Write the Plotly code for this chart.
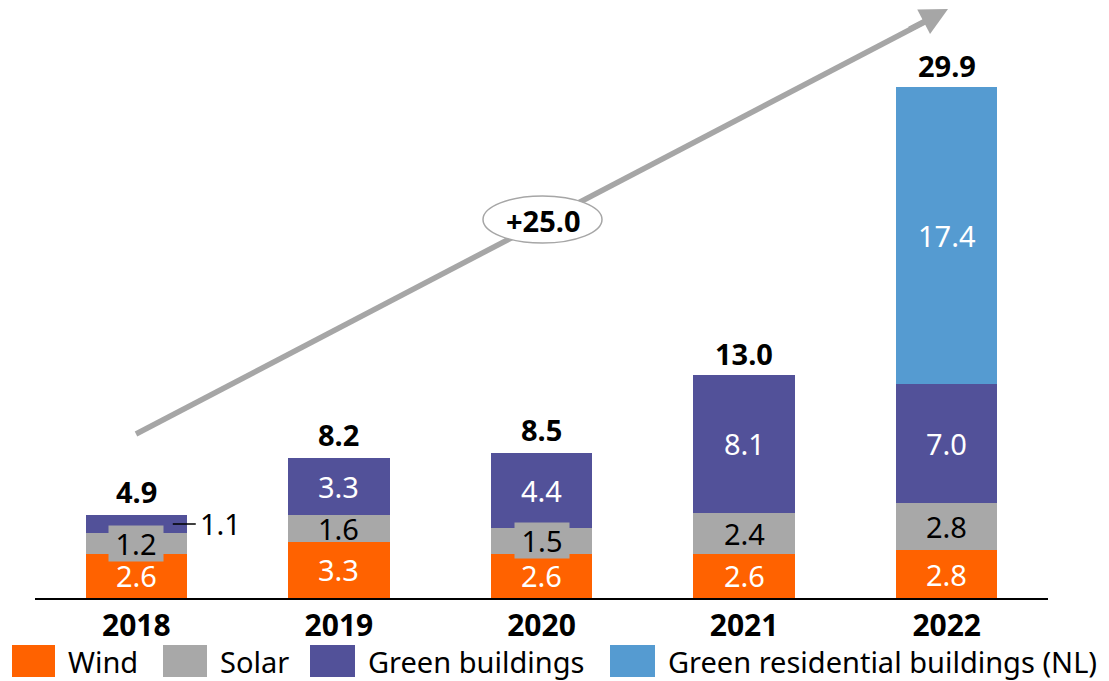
import plotly.graph_objects as go

years = ["2018", "2019", "2020", "2021", "2022"]
wind = [2.6, 3.3, 2.6, 2.6, 2.8]
solar = [1.2, 1.6, 1.5, 2.4, 2.8]
green_buildings = [1.1, 3.3, 4.4, 8.1, 7.0]
green_residential = [0, 0, 0, 0, 17.4]
totals = [4.9, 8.2, 8.5, 13.0, 29.9]

series_names = ["Wind", "Solar", "Green buildings", "Green residential buildings (NL)"]
series_values = [wind, solar, green_buildings, green_residential]
series_colors = ["#FF6200", "#A8A8A8", "#525199", "#559BD1"]
label_colors = ["white", "black", "white", "white"]

FONT = "Noto Sans"
OFF = 8  # page body margin
W, H = 1109 - OFF, 681 - OFF
ML, MR, MT = 35 - OFF, 1109 - 1048, 0
BASE = 598 - OFF
MB = H - BASE
PW = W - ML - MR
PH = H - MT - MB
YMAX = BASE / 17.02

def px2paper(px, py):
    # page pixel -> paper coordinates
    fx, fy = px - OFF, py - OFF
    return (fx - ML) / PW, (BASE - fy) / PH

fig = go.Figure()
for name, vals, col in zip(series_names, series_values, series_colors):
    fig.add_trace(go.Bar(
        x=years, y=[v if v > 0 else None for v in vals], name=name,
        marker=dict(color=col, line=dict(width=0)), showlegend=False,
        hoverinfo="skip"))

annotations = []
base = [0.0] * len(years)
for si, vals in enumerate(series_values):
    for i, v in enumerate(vals):
        if v <= 0:
            continue
        mid = base[i] + v / 2
        txt = f"{v:.1f}"
        if si == 2 and v < 1.3:
            annotations.append(dict(
                x=i + 0.18, y=mid, xref="x", yref="y", text=txt,
                showarrow=True, arrowhead=0, arrowwidth=1.5, arrowcolor="black",
                ax=48, ay=0, standoff=0, startstandoff=3,
                font=dict(family=FONT, size=29, color="black")))
        else:
            ann = dict(x=i, y=mid, xref="x", yref="y", text=txt, showarrow=False,
                       font=dict(family=FONT, size=29, color=label_colors[si]))
            if si == 1 and v < 1.55:
                ann.update(bgcolor=series_colors[1], width=54, height=35, borderpad=0)
            annotations.append(ann)
        base[i] += v

for i, t in enumerate(totals):
    annotations.append(dict(
        x=i, y=t, xref="x", yref="y", text=f"<b>{t:.1f}</b>", showarrow=False,
        yanchor="bottom", yshift=2,
        font=dict(family=FONT, size=29, color="black")))

# growth arrow
x0, y0 = px2paper(136, 434)
x1, y1 = px2paper(938, 15)
xt, yt = px2paper(948, 9)
shapes = [dict(type="line", xref="paper", yref="paper", x0=x0, y0=y0, x1=x1, y1=y1,
               line=dict(color="#A6A6A6", width=5.5), layer="above")]
annotations.append(dict(
    x=xt, y=yt, xref="paper", yref="paper", text="", showarrow=True,
    arrowhead=2, arrowsize=1, arrowwidth=5.5, arrowcolor="#A6A6A6",
    ax=-40, ay=21, standoff=0))
ex0, ey1 = px2paper(483, 196)
ex1, ey0 = px2paper(602, 243)
shapes.append(dict(type="circle", xref="paper", yref="paper", x0=ex0, y0=ey0, x1=ex1, y1=ey1,
                   fillcolor="white", line=dict(color="#A6A6A6", width=1.5), layer="above"))
cx, cy = px2paper(543, 220)
growth = totals[-1] - totals[0]
annotations.append(dict(x=cx, y=cy, xref="paper", yref="paper", text=f"<b>+{growth:.1f}</b>",
                        showarrow=False, font=dict(family=FONT, size=29, color="black")))

# manual legend
legend_boxes = [(12, 55), (163, 207), (310, 355), (610, 655)]
for (bx0, bx1), name, col in zip(legend_boxes, series_names, series_colors):
    px0, py1 = px2paper(bx0, 645)
    px1, py0 = px2paper(bx1, 677)
    shapes.append(dict(type="rect", xref="paper", yref="paper", x0=px0, y0=py0, x1=px1, y1=py1,
                       fillcolor=col, line=dict(width=0)))
    tx, ty = px2paper(bx1 + 11, 661)
    annotations.append(dict(x=tx, y=ty, xref="paper", yref="paper", text=name, showarrow=False,
                            xanchor="left", yanchor="middle",
                            font=dict(family=FONT, size=29, color="black")))

fig.update_layout(
    width=W, height=H, barmode="stack", bargap=0.5,
    margin=dict(l=ML, r=MR, t=MT, b=MB),
    plot_bgcolor="white", paper_bgcolor="white",
    shapes=shapes, annotations=annotations,
    xaxis=dict(showline=True, linecolor="black", linewidth=2, showgrid=False,
               ticks="", tickfont=dict(family=FONT, size=30, color="black", weight="bold"),
               ticklabelstandoff=0),
    yaxis=dict(visible=False, range=[0, YMAX], showgrid=False, zeroline=False),
)

fig.write_html("out.html")
